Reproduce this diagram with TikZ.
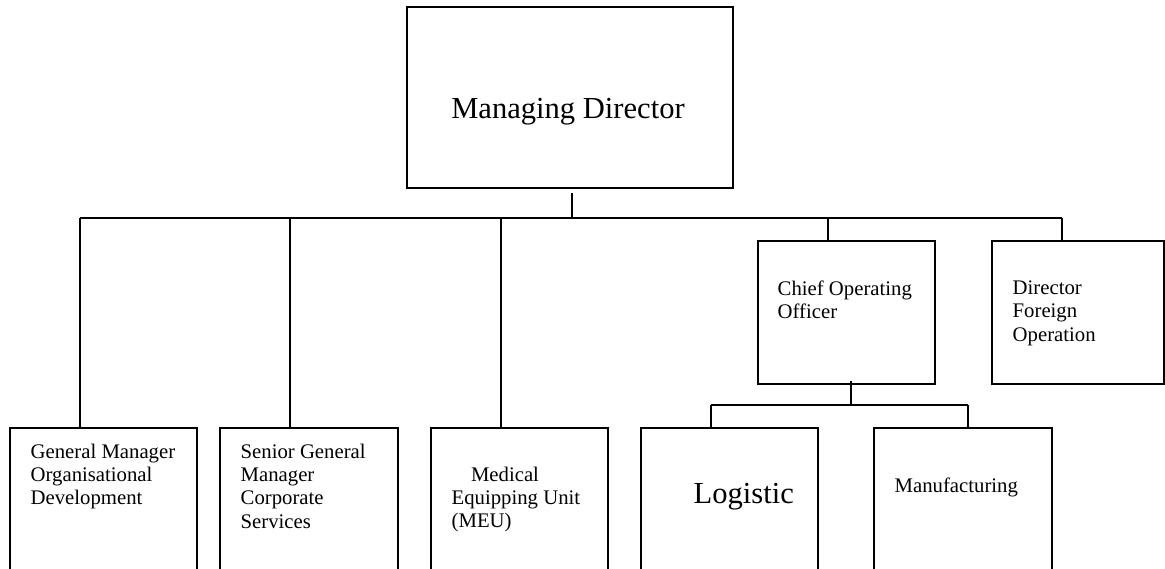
\documentclass[tikz,border=0pt]{standalone}
\usepackage{fontspec}
\setmainfont{Liberation Serif}
\begin{document}
\begin{tikzpicture}[x=0.02cm,y=-0.02cm,line width=0.8pt,
  box/.style={draw,inner sep=0pt},
  lbl/.style={align=left,inner sep=0pt,anchor=north west,font=\fontsize{11.8}{13.3}\selectfont},
  big/.style={inner sep=0pt,font=\fontsize{17.4}{20}\selectfont}]
\useasboundingbox (0,0) rectangle (1165,568);
\clip (0,0) rectangle (1165,568);

% boxes
\node[box,minimum width=6.52cm,minimum height=3.62cm] (md) at (570,97.5) {};
\node[box,minimum width=3.54cm,minimum height=2.86cm] (coo) at (846.5,312.5) {};
\node[box,minimum width=3.44cm,minimum height=2.86cm] (dfo) at (1078,312.5) {};
\node[box,minimum width=3.74cm,minimum height=3cm] (gm) at (103.5,503) {};
\node[box,minimum width=3.56cm,minimum height=3cm] (sgm) at (309,503) {};
\node[box,minimum width=3.54cm,minimum height=3cm] (meu) at (519.5,503) {};
\node[box,minimum width=3.54cm,minimum height=3cm] (log) at (729.5,503) {};
\node[box,minimum width=3.56cm,minimum height=3cm] (man) at (963,503) {};

% texts
\node[big,anchor=base] (mdtxt) at (568,118) {Managing Director};
\node[lbl] (cootxt) at (777,280) {Chief Operating\\Officer};
\node[lbl] (dfotxt) at (1012,280) {Director\\Foreign\\Operation};
\node[lbl] (gmtxt) at (30,443) {General Manager\\Organisational\\Development};
\node[lbl] (sgmtxt) at (240,443) {Senior General\\Manager\\Corporate\\Services};
\node[lbl] (meutxt) at (451,466) {\hspace*{11pt}Medical\\Equipping Unit\\(MEU)};
\node[big,anchor=base west] (logtxt) at (693,503) {Logistic};
\node[lbl,anchor=base west] (mantxt) at (894,492) {Manufacturing};

% connectors
\coordinate (mdstem) at (572,193);
\coordinate (busL) at (80,218);
\coordinate (busR) at (1062,218);
\draw (mdstem) -- (mdstem |- busL);
\draw (busL) -- (busR);
\foreach \x/\n in {80/gm,290/sgm,501/meu,828/coo,1062/dfo}
  \draw (\x,218) -- (\x,218 |- \n.north);

\coordinate (coostem) at (851,381);
\coordinate (subL) at (711,405);
\coordinate (subR) at (968,405);
\draw (coostem) -- (coostem |- subL);
\draw (subL) -- (subR);
\draw (subL) -- (subL |- log.north);
\draw (subR) -- (subR |- man.north);
\end{tikzpicture}
\end{document}
